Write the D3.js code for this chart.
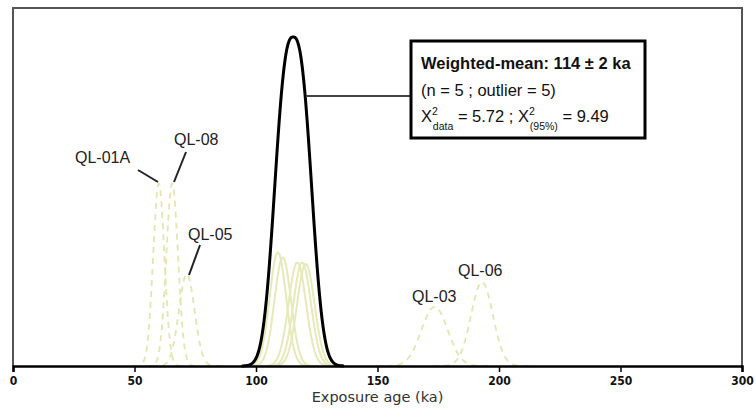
<!DOCTYPE html>
<html>
<head>
<meta charset="utf-8">
<script src="https://cdn.jsdelivr.net/npm/d3@7"></script>
<style>
  body { margin: 0; background: #fff; }
  text { font-family: "Liberation Sans", Arial, sans-serif; }
</style>
</head>
<body>
<div class="D3"></div>
<script>
//samples kept in the weighted mean (solid pale curves)
var keptMeans = [109, 111, 117, 119, 120.5];
var keptSigmas = [3.4, 3.4, 3.6, 3.6, 3.6];
var keptPeaks = [0.345, 0.33, 0.315, 0.315, 0.31];

//outliers (dashed curves)
var outlierNames = ["QL-01A", "QL-08", "QL-05", "QL-03", "QL-06"];
var outlierMeans = [60, 65.5, 71.5, 173.5, 193];
var outlierSigmas = [2.3, 2.4, 3.2, 5.4, 4.5];
var outlierPeaks = [0.555, 0.555, 0.28, 0.18, 0.255];

//weighted mean curve (black), width and shape exponent
var meanCurve = { mean: 115.3, width: 9.2, shape: 2.6, peak: 1 };

var xTicks = [0, 50, 100, 150, 200, 250, 300];

//svg dimensions
var svgWidth = 756;
var svgHeight = 409;
var margin = { top: 8, right: 14, bottom: 43, left: 13 };
var chartWidth = svgWidth - margin.left - margin.right;
var chartHeight = svgHeight - margin.top - margin.bottom;

var svg = d3.select(".D3").append("svg")
  .attr("width", svgWidth)
  .attr("height", svgHeight);

var chartGroup = svg.append("g")
  .attr("transform", `translate(${margin.left}, ${margin.top})`);

var xScale = d3.scaleLinear().domain([0, 300]).range([0, chartWidth]);
var yScale = d3.scaleLinear().domain([0, 1.088]).range([chartHeight, 0]);

//gaussian points
function gauss(mean, sigma, peak) {
  var pts = [];
  for (var x = mean - 4.5 * sigma; x <= mean + 4.5 * sigma; x += sigma / 20) {
    pts.push([x, peak * Math.exp(-0.5 * Math.pow((x - mean) / sigma, 2))]);
  }
  return pts;
}

//generalised bell for the weighted mean curve
function bell(c) {
  var pts = [];
  for (var x = c.mean - 2.3 * c.width; x <= c.mean + 2.3 * c.width; x += c.width / 40) {
    pts.push([x, c.peak * Math.exp(-Math.pow(Math.abs(x - c.mean) / c.width, c.shape))]);
  }
  return pts;
}

var line = d3.line()
  .x(d => xScale(d[0]))
  .y(d => yScale(d[1]))
  .curve(d3.curveBasis);

//frame
chartGroup.append("path")
  .attr("d", `M0,${chartHeight}V0H${chartWidth}V${chartHeight}`)
  .attr("fill", "none")
  .attr("stroke", "#555")
  .attr("stroke-width", 2);

//outlier dashed curves
chartGroup.selectAll(".outlier")
  .data(outlierMeans)
  .enter()
  .append("path")
  .attr("class", "outlier")
  .attr("d", (d, i) => line(gauss(d, outlierSigmas[i], outlierPeaks[i])))
  .attr("fill", "none")
  .attr("stroke", "#e2e7b0")
  .attr("stroke-width", 1.8)
  .attr("stroke-dasharray", "6,5");

//kept samples
chartGroup.selectAll(".kept")
  .data(keptMeans)
  .enter()
  .append("path")
  .attr("class", "kept")
  .attr("d", (d, i) => line(gauss(d, keptSigmas[i], keptPeaks[i])))
  .attr("fill", "none")
  .attr("stroke", "#e6eab8")
  .attr("stroke-width", 2);

//weighted mean
chartGroup.append("path")
  .attr("d", line(bell(meanCurve)))
  .attr("fill", "none")
  .attr("stroke", "#000")
  .attr("stroke-width", 3);

//x axis
var bottomAxis = d3.axisBottom(xScale)
  .tickValues(xTicks)
  .tickSize(6)
  .tickFormat(d3.format("d"));

var xAxis = chartGroup.append("g")
  .attr("transform", `translate(0, ${chartHeight})`)
  .call(bottomAxis);

xAxis.select(".domain").attr("stroke", "#000").attr("stroke-width", 2.5);
xAxis.selectAll(".tick line").attr("stroke", "#000").attr("stroke-width", 1.5);
xAxis.selectAll(".tick text")
  .attr("y", 10)
  .attr("fill", "#111")
  .style("font-family", "DejaVu Sans Condensed, DejaVu Sans")
  .style("font-weight", "bold")
  .style("font-size", "12px");

chartGroup.append("text")
  .attr("x", chartWidth / 2)
  .attr("y", chartHeight + 36)
  .attr("text-anchor", "middle")
  .style("font-family", "DejaVu Sans")
  .style("font-size", "14.5px")
  .attr("fill", "#333")
  .text("Exposure age (ka)");

//outlier labels and leaders
var labelPos = [[75, 163], [174, 145], [188, 240], [412, 302], [458, 276]];
var leaders = [[[138, 170], [158, 182]], [[186, 152], [174, 182]], [[200, 245], [189, 275]], null, null];

svg.selectAll(".ql")
  .data(outlierNames)
  .enter()
  .append("text")
  .attr("class", "ql")
  .attr("x", (d, i) => labelPos[i][0])
  .attr("y", (d, i) => labelPos[i][1])
  .style("font-size", "16px")
  .attr("fill", "#222")
  .text(d => d);

svg.selectAll(".leader")
  .data(leaders.filter(d => d))
  .enter()
  .append("line")
  .attr("x1", d => d[0][0]).attr("y1", d => d[0][1])
  .attr("x2", d => d[1][0]).attr("y2", d => d[1][1])
  .attr("stroke", "#222")
  .attr("stroke-width", 2);

//weighted mean box
svg.append("line")
  .attr("x1", 306).attr("y1", 96).attr("x2", 411).attr("y2", 96)
  .attr("stroke", "#444").attr("stroke-width", 2);

svg.append("rect")
  .attr("x", 411).attr("y", 41)
  .attr("width", 234).attr("height", 97)
  .attr("fill", "#fff")
  .attr("stroke", "#000")
  .attr("stroke-width", 3);

var box = svg.append("g").attr("transform", "translate(421, 0)");

box.append("text").attr("y", 69)
  .style("font-size", "16.5px").style("font-weight", "bold").attr("fill", "#111")
  .text("Weighted-mean: 114 \u00b1 2 ka");

box.append("text").attr("y", 96)
  .style("font-size", "16.5px").attr("fill", "#111")
  .text("(n = 5 ; outlier = 5)");

var t3 = box.append("text").attr("y", 122)
  .style("font-size", "16.5px").attr("fill", "#111");
t3.append("tspan").text("X");
t3.append("tspan").attr("dy", -7).style("font-size", "10.5px").text("2");
t3.append("tspan").attr("dy", 15).attr("dx", -5).style("font-size", "10.5px").text("data");
t3.append("tspan").attr("dy", -8).text(" = 5.72 ; X");
t3.append("tspan").attr("dy", -7).style("font-size", "10.5px").text("2");
t3.append("tspan").attr("dy", 15).attr("dx", -5).style("font-size", "10.5px").text("(95%)");
t3.append("tspan").attr("dy", -8).text(" = 9.49");
</script>
</body>
</html>
